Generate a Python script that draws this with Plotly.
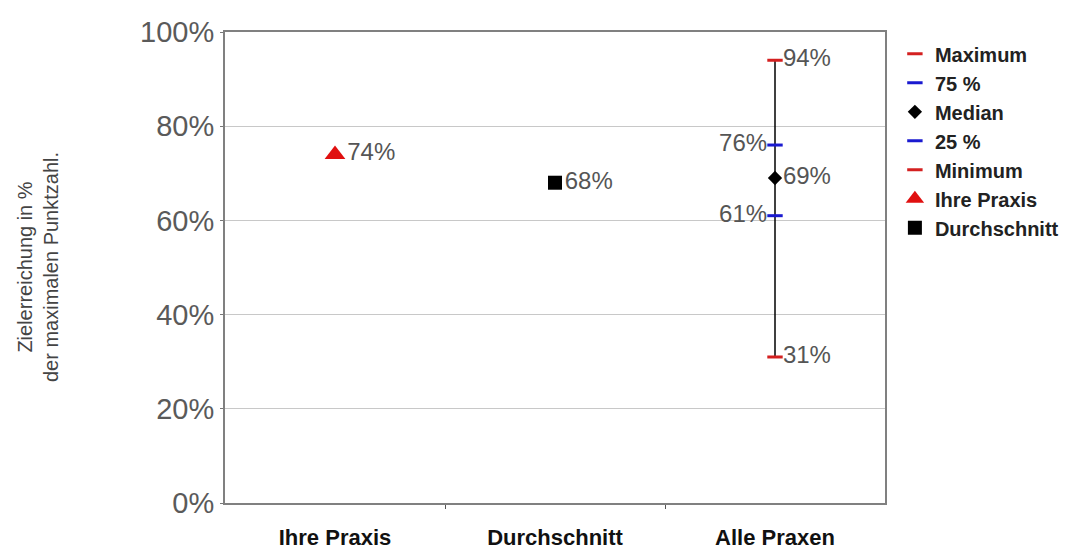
import plotly.graph_objects as go

categories = ["Ihre Praxis", "Durchschnitt", "Alle Praxen"]
ihre_praxis = 74
durchschnitt = 68
alle_max = 94
alle_q75 = 76
alle_median = 69
alle_q25 = 61
alle_min = 31
y_ticks = [0, 20, 40, 60, 80, 100]
y_ticklabels = ["0%", "20%", "40%", "60%", "80%", "100%"]

xi = {c: i for i, c in enumerate(categories)}
xa = xi["Alle Praxen"]

label_font = dict(family="Liberation Sans, Arial", size=24, color="#555555")

fig = go.Figure()

# whisker line
fig.add_trace(go.Scatter(x=[xa, xa], y=[alle_min, alle_max], mode="lines",
                         line=dict(color="black", width=1.5), showlegend=False,
                         hoverinfo="skip"))

def dash_trace(name, y, color, pos):
    return go.Scatter(x=[xa], y=[y], mode="markers+text", name=name,
                      marker=dict(symbol="line-ew", size=11,
                                  line=dict(color=color, width=3)),
                      text=[f"{y}%"], textposition=pos, textfont=label_font,
                      legendgroup=name)

fig.add_trace(dash_trace("Maximum", alle_max, "#d42020", "middle right"))
fig.add_trace(dash_trace("75 %", alle_q75, "#1a1ad0", "middle left"))
fig.add_trace(go.Scatter(x=[xa], y=[alle_median], mode="markers+text", name="Median",
                         marker=dict(symbol="diamond", size=11, color="black"),
                         text=[f"{alle_median}%"], textposition="middle right",
                         textfont=label_font, legendgroup="Median"))
fig.add_trace(dash_trace("25 %", alle_q25, "#1a1ad0", "middle left"))
fig.add_trace(dash_trace("Minimum", alle_min, "#d42020", "middle right"))
fig.add_trace(go.Scatter(x=[xi["Ihre Praxis"]], y=[ihre_praxis], mode="markers+text",
                         name="Ihre Praxis",
                         marker=dict(symbol="triangle-up", size=18, color="#e01010"),
                         text=[f"{ihre_praxis}%"], textposition="middle right",
                         textfont=label_font, legendgroup="Ihre Praxis"))
fig.add_trace(go.Scatter(x=[xi["Durchschnitt"]], y=[durchschnitt], mode="markers+text",
                         name="Durchschnitt",
                         marker=dict(symbol="square", size=14, color="black"),
                         text=[f"{durchschnitt}%"], textposition="middle right",
                         textfont=label_font, legendgroup="Durchschnitt"))

fig.update_layout(
    width=1069, height=549,
    margin=dict(l=217, r=192, t=24, b=54, autoexpand=False),
    paper_bgcolor="white", plot_bgcolor="white",
    font=dict(family="Liberation Sans, Arial", color="#333333"),
    showlegend=True,
    legend=dict(x=1.015, y=0.995, xanchor="left", yanchor="top",
                font=dict(family="Liberation Sans, Arial", size=20, color="#222222",
                          weight="bold"),
                tracegroupgap=0, itemwidth=30, bgcolor="rgba(0,0,0,0)"),
    xaxis=dict(range=[-0.5, 2.5], tickvals=list(range(len(categories))),
               ticktext=categories, ticks="", showgrid=False, zeroline=False,
               ticklabelstandoff=14, automargin=False,
               tickfont=dict(family="Liberation Sans, Arial", size=22, color="#111111",
                             weight="bold"),
               showline=True, linecolor="#808080", linewidth=2, mirror=True,
               minor=dict(tickvals=[0.5, 1.5], ticks="outside", ticklen=4,
                          tickcolor="#555555", tickwidth=1)),
    yaxis=dict(range=[0, 100], tickvals=y_ticks, ticktext=y_ticklabels,
               showgrid=True, gridcolor="#c8c8c8", gridwidth=1, zeroline=False,
               ticks="outside", ticklen=3, tickcolor="#777777", automargin=False,
               tickfont=dict(family="Liberation Sans, Arial", size=29, color="#5a5a5a"),
               showline=True, linecolor="#808080", linewidth=2, mirror=True),
    annotations=[dict(text="Zielerreichung in %<br>der maximalen Punktzahl.",
                      xref="paper", yref="paper", x=-0.284, y=0.5,
                      xanchor="center", yanchor="middle", textangle=-90,
                      showarrow=False,
                      font=dict(family="Liberation Sans, Arial", size=20,
                                color="#444444"))],
)

fig.write_html("out.html")
